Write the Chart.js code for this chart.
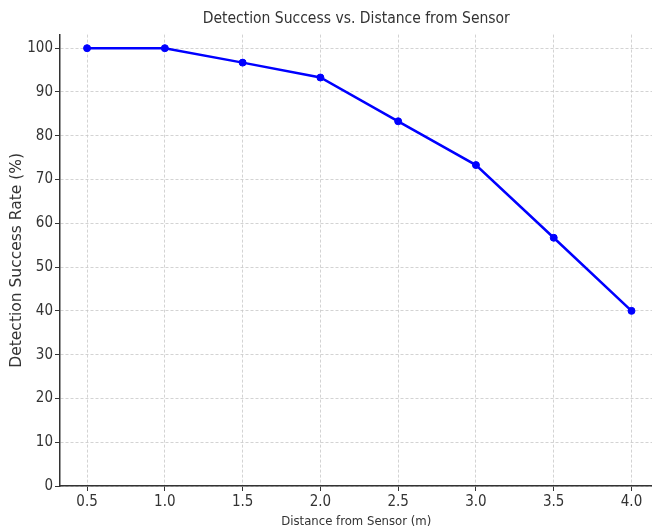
<!DOCTYPE html>
<html>
<head>
<meta charset="utf-8">
<script src="https://cdn.jsdelivr.net/npm/chart.js@4.4.1/dist/chart.umd.min.js"></script>
<style>
  html, body { margin: 0; padding: 0; background: #fff; overflow: hidden; }
  #wrap { width: 657px; height: 529px; }
</style>
</head>
<body>
<div id="wrap"><canvas id="chart"></canvas></div>
<script>
// distance (m) vs detection success (%)
const distances = [0.5, 1.0, 1.5, 2.0, 2.5, 3.0, 3.5, 4.0];
const successRates = [100, 100, 96.7, 93.3, 83.3, 73.3, 56.7, 40];
const xTicks = [0.5, 1.0, 1.5, 2.0, 2.5, 3.0, 3.5, 4.0];
const yTicks = [0, 10, 20, 30, 40, 50, 60, 70, 80, 90, 100];

const condensed = "'DejaVu Sans Condensed', 'DejaVu Sans', sans-serif";
const textColor = '#333';
const gridStyle = { color: '#c8c8c8', lineWidth: 0.8, tickLength: 5, tickColor: '#333', tickWidth: 1 };
const borderStyle = { display: true, color: '#333', width: 1.5, dash: [3, 2] };

const ctx = document.getElementById('chart').getContext('2d');
new Chart(ctx, {
    type: 'line',
    data: {
        datasets: [{
            data: distances.map((d, i) => ({ x: d, y: successRates[i] })),
            borderColor: '#0000ff',
            backgroundColor: '#0000ff',
            borderWidth: 2.5,
            pointRadius: 3.5,
            pointBorderWidth: 1,
            pointHoverRadius: 3.5,
            tension: 0
        }]
    },
    options: {
        responsive: true,
        maintainAspectRatio: false,
        animation: false,
        layout: { padding: 0 },
        plugins: {
            legend: { display: false },
            tooltip: { enabled: false },
            title: {
                display: true,
                text: 'Detection Success vs. Distance from Sensor',
                color: textColor,
                fullSize: false,
                font: { family: condensed, size: 15.5, weight: 'normal' },
                padding: { top: 10, bottom: 6 }
            }
        },
        scales: {
            x: {
                type: 'linear',
                min: 0.326,
                max: 4.135,
                afterBuildTicks: (axis) => { axis.ticks = xTicks.map(v => ({ value: v })); },
                afterFit: (axis) => {
                    axis.height = 43;
                    axis.paddingLeft = 0;
                    axis.paddingRight = 0;
                },
                grid: gridStyle,
                border: borderStyle,
                ticks: {
                    color: textColor,
                    padding: 2,
                    maxRotation: 0,
                    font: { family: condensed, size: 15 },
                    callback: (v) => v.toFixed(1)
                },
                title: {
                    display: true,
                    text: 'Distance from Sensor (m)',
                    color: textColor,
                    font: { family: condensed, size: 13 },
                    padding: { top: 2, bottom: 0 }
                }
            },
            y: {
                min: 0,
                max: 103.1,
                afterBuildTicks: (axis) => { axis.ticks = yTicks.map(v => ({ value: v })); },
                afterFit: (axis) => { axis.width = 60; },
                grid: gridStyle,
                border: borderStyle,
                ticks: {
                    color: textColor,
                    padding: 2,
                    font: { family: condensed, size: 15 }
                },
                title: {
                    display: true,
                    text: 'Detection Success Rate (%)',
                    color: textColor,
                    font: { family: "'DejaVu Sans', sans-serif", size: 15.5 },
                    padding: { top: 8, bottom: 0 }
                }
            }
        }
    }
});
</script>
</body>
</html>
